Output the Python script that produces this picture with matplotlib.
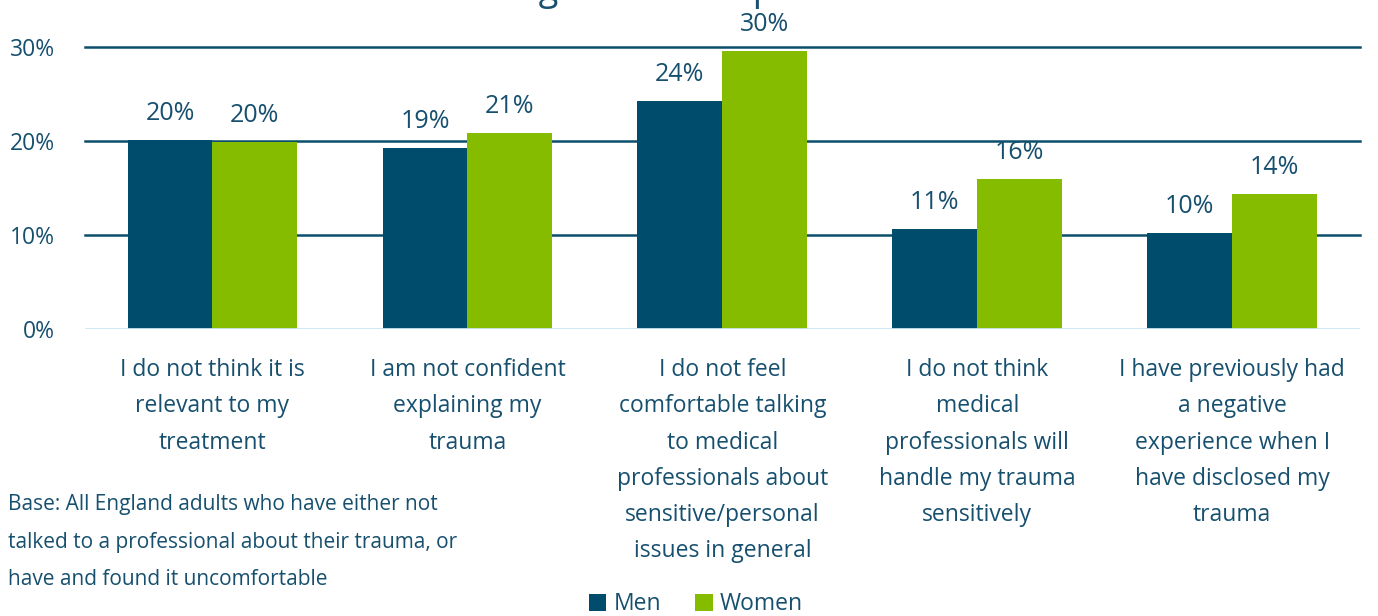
"""Barras agrupadas: motivos para no hablar del trauma, hombres vs mujeres."""
import matplotlib
import numpy as np

matplotlib.use("Agg")
import matplotlib.pyplot as plt  # noqa: E402

plt.rcParams["font.family"] = ["Open Sans", "DejaVu Sans"]

# Datos
categories = [
    "I do not think it is\nrelevant to my\ntreatment",
    "I am not confident\nexplaining my\ntrauma",
    "I do not feel\ncomfortable talking\nto medical\nprofessionals about\nsensitive/personal\nissues in general",
    "I do not think\nmedical\nprofessionals will\nhandle my trauma\nsensitively",
    "I have previously had\na negative\nexperience when I\nhave disclosed my\ntrauma",
]
men = [20.1, 19.3, 24.3, 10.6, 10.2]
women = [19.9, 20.9, 29.6, 16.0, 14.4]
series_names = ["Men", "Women"]
y_ticks = [0, 10, 20, 30]
title = "Reasons for not talking to medical professionals about trauma"
base_note = ("Base: All England adults who have either not\n"
             "talked to a professional about their trauma, or\n"
             "have and found it uncomfortable")

TEXT = "#17506f"
MEN_C = "#004c6d"
WOMEN_C = "#86bc00"
GRID = "#0b4f6c"
ZERO = "#c9e6f5"

fig = plt.figure(figsize=(13.78, 6.16), dpi=100)
ax = fig.add_axes([0.0617, 0.466, 0.925, 0.4577])

x = np.arange(len(categories))
w = 0.333
b1 = ax.bar(x - w / 2, men, w, color=MEN_C, label=series_names[0], zorder=3)
b2 = ax.bar(x + w / 2, women, w, color=WOMEN_C, label=series_names[1], zorder=3)

for bars in (b1, b2):
    for rect in bars:
        h = rect.get_height()
        ax.annotate(f"{round(h):.0f}%", (rect.get_x() + rect.get_width() / 2, h),
                    xytext=(0, 10), textcoords="offset points",
                    ha="center", va="bottom", fontsize=18, color=TEXT,
                    annotation_clip=False)

ax.set_xlim(-0.5, len(categories) - 0.5)
ax.set_ylim(0, 30)
ax.set_yticks(y_ticks)
ax.set_yticklabels([f"{t}%" for t in y_ticks], fontsize=16.5, color=TEXT)
ax.tick_params(axis="y", length=0, pad=21.5)
ax.set_xticks(x)
ax.set_xticklabels(categories, fontsize=16.5, color=TEXT, linespacing=1.68,
                   va="top")
ax.tick_params(axis="x", length=0, pad=21)

for t in y_ticks[1:]:
    ax.axhline(t, color=GRID, lw=1.8, zorder=1, clip_on=False)
ax.axhline(0, color=ZERO, lw=2, zorder=4)
for s in ax.spines.values():
    s.set_visible(False)

# Título recortado en el borde superior (como en la imagen original)
fig.text(0.505, 1.0, title, ha="center", va="baseline", fontsize=26,
         color=TEXT)

fig.text(0.006, 0.198, base_note, ha="left", va="top", fontsize=15,
         color=TEXT, linespacing=2.03)

fig.legend(handles=[b1, b2], labels=series_names, loc="center",
           bbox_to_anchor=(0.505, 0.019), ncol=2, frameon=False,
           fontsize=16.5, handlelength=0.75, handleheight=0.75,
           handletextpad=0.3, columnspacing=1.5, labelcolor=TEXT)

fig.savefig("out.png", dpi=100)
